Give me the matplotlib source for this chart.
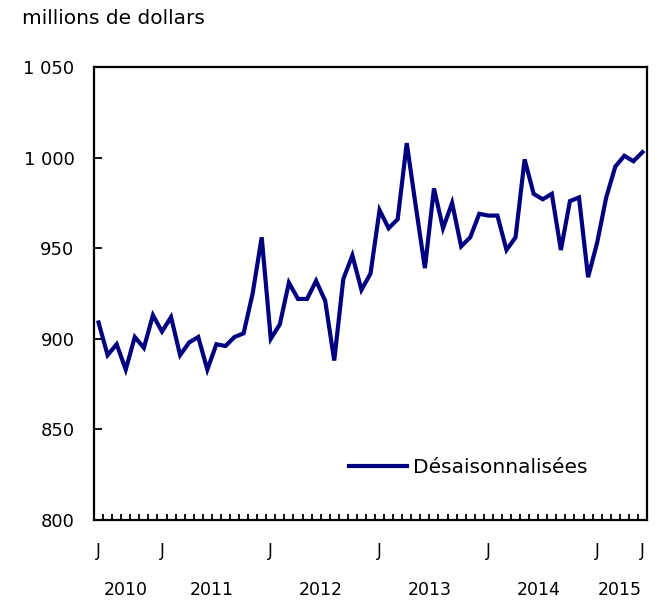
import matplotlib
matplotlib.use("Agg")
import matplotlib.pyplot as plt
from matplotlib.ticker import FuncFormatter, FixedLocator

# monthly values, June 2010 to June 2015 (millions of dollars)
values = [
    909, 891, 897, 883, 901, 895, 913, 904, 912, 891, 898, 901,
    883, 897, 896, 901, 903, 925, 956, 900, 908, 931, 922, 922,
    932, 921, 888, 933, 946, 927, 936, 971, 961, 966, 1008, 973,
    939, 983, 961, 975, 951, 956, 969, 968, 968, 949, 956, 999,
    980, 977, 980, 949, 976, 978, 934, 953, 978, 995, 1001, 998,
    1003,
]
month_labels = ["J", "J", "J", "J", "J", "J", "J"]
month_label_idx = [0, 7, 19, 31, 43, 55, 60]
years = ["2010", "2011", "2012", "2013", "2014", "2015"]
year_centers = [3, 12.5, 24.5, 36.5, 48.5, 57.5]
series_name = "Désaisonnalisées"

plt.rcParams['font.family'] = ['DejaVu Sans']

fig = plt.figure(figsize=(6.61, 6.05), dpi=100)
ax = fig.add_axes([94 / 661, 85 / 605, 553 / 661, 453 / 605])

x = list(range(len(values)))
ax.plot(x, values, color='#000080', linewidth=3.0, label=series_name,
        solid_joinstyle='miter')

ax.set_xlim(-0.5, len(values) - 0.5)
ax.set_ylim(800, 1050)
ax.set_yticks([800, 850, 900, 950, 1000, 1050])
ax.yaxis.set_major_formatter(
    FuncFormatter(lambda v, p: f"{int(v):,}".replace(",", " ")))

# month ticks at boundaries, labels at month centres
ax.xaxis.set_minor_locator(FixedLocator([i - 0.5 for i in range(len(values) + 1)]))
ax.set_xticks(month_label_idx)
ax.set_xticklabels(month_labels)
ax.tick_params(axis='x', which='major', length=0, pad=16, labelsize=12)
ax.tick_params(axis='x', which='minor', direction='in', length=4.5, width=1.3)
ax.tick_params(axis='y', direction='in', length=6, width=1.3, pad=14,
               labelsize=13)

for c, yr in zip(year_centers, years):
    ax.text(c, -0.155, yr, transform=ax.get_xaxis_transform(),
            ha='center', va='center', fontsize=12.5)

for s in ax.spines.values():
    s.set_linewidth(1.6)

fig.text(22 / 661, 1 - 18 / 605, "millions de dollars", ha='left',
         va='center', fontsize=14.5)

ax.legend(loc='lower right', bbox_to_anchor=(0.926, 0.055), frameon=False,
          fontsize=14.5, handlelength=2.9, handletextpad=0.3)

fig.savefig("out.png", dpi=100)
